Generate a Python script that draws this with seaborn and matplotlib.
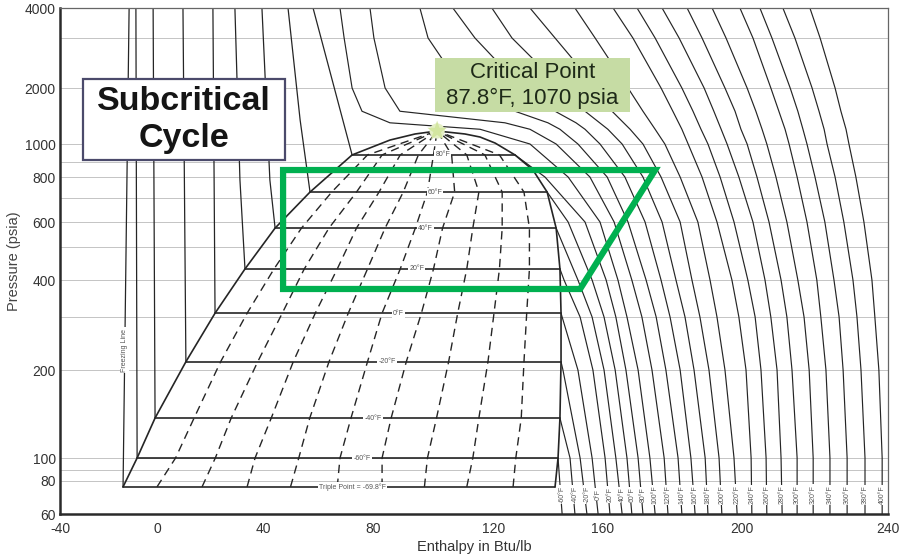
import numpy as np
import pandas as pd
import seaborn as sns
import matplotlib.pyplot as plt
from matplotlib.patches import Rectangle, Polygon

nan = np.nan

# The printed axis marks are not evenly spaced on this chart, so the scale is
# calibrated on them (height / offset of each mark from the bottom-left corner).
h_marks = [-40, 0, 40, 80, 120, 160, 200, 240]
h_mark_pos = [0, 97, 203, 313, 434, 543, 682, 828]
p_marks = [60, 80, 90, 100, 200, 300, 400, 500, 600, 700, 800, 900, 1000, 2000, 3000, 4000]
p_mark_pos = [0, 33, 44, 56, 144, 197, 234, 267, 292, 316, 337, 352, 370, 426, 476, 506]

p_ticks = [60, 80, 100, 200, 400, 600, 800, 1000, 2000, 4000]
p_grid_minor = [90, 300, 500, 700, 900, 3000]

# saturation dome outline (liquid side up to the critical point, vapour side down)
dome_h = [-14.0, -8.2, -0.8, 10.9, 21.9, 33.2, 44.4, 57.1, 72.4, 85.6, 93.9, 101.2,
          110.4, 115.4, 120.4, 127.7, 134.3, 139.5, 142.8, 144.2, 144.6, 144.6, 144.2, 143.5, 142.4]
dome_p = [76, 100, 137, 213, 309, 431, 574, 727, 938, 1050, 1132, 1175,
          1132, 1090, 1012, 938, 845, 727, 574, 431, 309, 213, 137, 100, 76]
crit_h, crit_p = 101.2, 1175

# isotherms inside the dome
sat_T = [80, 60, 40, 20, 0, -20, -40, -60, -69.8]
sat_p = [938, 727, 574, 431, 309, 213, 137, 100, 76]
sat_liq_h = [72.4, 57.1, 44.4, 33.2, 21.9, 10.9, -0.8, -8.2, -14.0]
sat_vap_h = [127.7, 139.5, 142.8, 144.2, 144.6, 144.6, 144.2, 143.5, 142.4]
sat_labels = ['80°F', '60°F', '40°F', '20°F', '0°F', '-20°F', '-40°F', '-60°F',
              'Triple Point = -69.8°F']

# constant quality lines (10 % .. 90 %), from the triple line up to the critical point
qual_p = [76, 100, 137, 213, 309, 431, 574, 727, 938, 1175]
qual_h = [
    [0, 7, 14, 24, 34, 44, 54, 65, 78, 101.2],
    [17, 22, 28, 38, 47, 55, 64, 74, 83, 101.2],
    [34, 37, 43, 51, 59, 67, 74, 82, 89, 101.2],
    [50, 53, 57, 64, 71, 78, 84, 90, 95, 101.2],
    [67, 68, 72, 78, 83, 89, 94, 98, 100, 101.2],
    [83, 83, 86, 91, 96, 100, 103, 107, 106, 101.2],
    [97, 98, 101, 105, 108, 111, 113, 115, 111, 101.2],
    [111, 113, 115, 118, 120, 122, 123, 123, 117, 101.2],
    [127, 128, 130, 131, 132, 133, 133, 131, 122, 101.2],
]

# liquid-side isotherms (-60 .. 80 F), from saturated liquid to the top
liq_iso_h = [[-8.2, -8.7], [-0.8, -1.6], [10.9, 9.8], [21.9, 21.1],
             [33.2, 31.3, 29.4], [44.4, 42.5, 39.6], [57.1, 53.5, 49.1], [72.4, 58.2]]
liq_iso_p = [[100, 4000], [137, 4000], [213, 4000], [309, 4000],
             [431, 785, 4000], [574, 785, 4000], [727, 1346, 4000], [938, 4000]]

freeze_h = [-14.0, -11.5]
freeze_p = [76, 4000]

# vapour / supercritical isotherms on a common pressure grid
p_grid = [60, 100, 200, 300, 400, 600, 800, 1000, 1200, 1300, 1500, 2000, 3000, 4000]
vap_T = [-60, -40, -20, 0, 20, 40, 60, 80, 100, 120, 140, 160, 180, 200,
         220, 240, 260, 280, 300, 320, 340, 360, 380, 400]
vap_h = [
    [145.0] + [nan] * 13,
    [149.7, 147.9] + [nan] * 12,
    [154.1, 151.6, 145.3] + [nan] * 11,
    [158.2, 156.0, 150.8, 145.0] + [nan] * 10,
    [162.0, 160.6, 156.3, 151.6, 145.7] + [nan] * 9,
    [165.5, 163.7, 160.3, 156.0, 150.8] + [nan] * 9,
    [168.3, 166.9, 163.5, 160.3, 156.0, 147.2] + [nan] * 8,
    [171.5, 170.1, 166.6, 163.7, 160.9, 153.4, 138.7] + [nan] * 7,
    [175.0, 173.5, 170.1, 166.9, 164.3, 158.9, 147.2, 133.2, 115.4, 85.6, 76.0, 72.4, 69.5, 68.0],
    [178.7, 177.6, 174.1, 171.2, 168.3, 163.2, 155.2, 142.8, 133.2, 124.0, 88.9, 84.0, 80.3, 78.9],
    [182.7, 181.6, 178.1, 175.3, 172.4, 167.2, 161.2, 150.8, 144.2, 139.8, 127.7, 109.4, 98.2, 95.5],
    [186.5, 185.3, 182.2, 179.3, 176.7, 172.1, 166.3, 158.9, 153.4, 150.1, 142.4, 130.3, 113.7, 106.4],
    [190.2, 189.4, 186.2, 183.6, 181.0, 177.0, 171.5, 165.5, 161.4, nan, 153.4, 145.0, 126.6, 119.3],
    [194.2, 193.4, 190.5, 187.9, 185.6, 182.2, 176.7, 171.5, 167.8, nan, 162.6, 157.8, 142.4, 133.2],
    [198.6, 197.7, 195.1, 192.8, 190.8, 187.3, 182.2, 177.8, 175.0, nan, 171.5, 167.2, 157.1, 149.7],
    [202.7, 202.5, 201.1, 199.1, 197.1, 192.8, 188.5, 184.5, 182.7, nan, 180.1, 176.7, 168.6, 162.9],
    [206.8, 206.6, 205.2, 203.6, 201.6, 197.7, 193.7, 190.2, 188.2, nan, 185.9, 182.7, 175.0, 169.8],
    [211.0, 210.7, 209.6, 207.9, 206.3, 203.0, 199.1, 195.7, 194.0, nan, 191.9, 189.1, 181.9, 177.0],
    [215.1, 215.1, 213.7, 212.3, 210.7, 207.4, 204.1, 201.4, 199.7, nan, 198.0, 195.1, 188.5, 184.2],
    [219.5, 219.5, 218.4, 217.0, 215.3, 212.3, 209.3, 206.8, 205.5, nan, 203.8, 201.4, 195.4, 191.4],
    [224.1, 224.1, 223.0, 221.6, 220.5, 217.8, 215.1, 212.9, 211.8, nan, 210.1, 207.9, 203.0, 199.4],
    [228.8, 228.8, 227.7, 226.6, 225.2, 222.7, 220.0, 217.8, 216.7, nan, 215.3, 213.2, 208.2, 204.9],
    [233.7, 233.7, 232.6, 231.5, 230.4, 227.9, 225.5, 223.3, 222.5, nan, 221.1, 219.2, 214.5, 211.2],
    [238.4, 238.4, 237.5, 236.4, 235.6, 233.4, 231.2, 229.3, 228.5, nan, 227.1, 225.5, 221.4, 218.6],
]

# highlighted subcritical cycle
cycle_h = [47.3, 175.0, 151.6, 47.3]
cycle_p = [845, 845, 373, 373]


def h_fwd(h):
    return np.interp(h, h_marks, h_mark_pos)


def h_inv(v):
    return np.interp(v, h_mark_pos, h_marks)


def p_fwd(p):
    return np.interp(np.log10(np.maximum(p, 1e-6)), np.log10(p_marks), p_mark_pos)


def p_inv(v):
    return 10 ** np.interp(v, p_mark_pos, np.log10(p_marks))


sns.set_theme(style='white')
plt.rcParams['font.family'] = ['Liberation Sans', 'DejaVu Sans']

fig = plt.figure(figsize=(9.05, 5.57), dpi=100)
ax = fig.add_axes([60 / 905, 43 / 557, 828 / 905, 506 / 557])
ax.set_xscale('function', functions=(h_fwd, h_inv))
ax.set_yscale('function', functions=(p_fwd, p_inv))

line_col = '#252525'
label_box = dict(boxstyle='square,pad=0.15', fc='white', ec='none')

# vapour and supercritical isotherms
rows = []
for i, T in enumerate(vap_T):
    hs, ps = list(vap_h[i]), list(p_grid)
    if T in sat_T:
        k = sat_T.index(T)
        hs, ps = hs + [sat_vap_h[k]], ps + [sat_p[k]]
        order = np.argsort(ps)
        hs, ps = [hs[j] for j in order], [ps[j] for j in order]
    for n, (h, p) in enumerate(zip(hs, ps)):
        if np.isfinite(h):
            rows.append({'T': T, 'h': h, 'p': p, 'n': n})
vap_df = pd.DataFrame(rows)
sns.lineplot(data=vap_df, x='h', y='p', units='T', estimator=None, sort=False,
             color=line_col, linewidth=0.85, legend=False, ax=ax, zorder=2)

# liquid isotherms and freezing line
for hs, ps in zip(liq_iso_h, liq_iso_p):
    ax.plot(hs, ps, color=line_col, lw=0.9, zorder=2)
ax.plot(freeze_h, freeze_p, color=line_col, lw=0.9, zorder=2)
ax.text(-13.3, 233, 'Freezing Line', rotation=90, fontsize=5, color='#555',
        ha='center', va='center', bbox=label_box, zorder=3)

# dome, isotherms and quality lines inside it
ax.plot(dome_h, dome_p, color=line_col, lw=1.2, zorder=3)
for hl, hv, p in zip(sat_liq_h, sat_vap_h, sat_p):
    ax.plot([hl, hv], [p, p], color=line_col, lw=1.2, zorder=3)
for hs in qual_h:
    ax.plot(hs, qual_p, color=line_col, lw=1.0, linestyle=(0, (6, 4)), zorder=2)

label_h = [103.1, 100.5, 97.2, 94.5, 88.3, 84.6, 80.0, 76.0, 72.4]
for txt, h, p in zip(sat_labels, label_h, sat_p):
    ax.text(h, p, txt, fontsize=5, color='#555', ha='center', va='center',
            bbox=label_box, zorder=4)

for i, T in enumerate(vap_T):
    ax.text(vap_h[i][0], 71, f'{T}°F', rotation=90, fontsize=5, color='#555',
            ha='center', va='center', bbox=dict(boxstyle='square,pad=0.1', fc='white', ec='none'),
            zorder=4)

# critical point glow
ax.scatter([crit_h], [crit_p], marker='o', s=120, color='#e4efc4', edgecolors='none', zorder=5)
ax.scatter([crit_h], [crit_p], marker='*', s=220, color='#d3e6a0', edgecolors='none', zorder=5)

# cycle outline
ax.add_patch(Polygon(np.column_stack([cycle_h, cycle_p]), closed=True, fill=False,
                     ec='#00b050', lw=4.5, joinstyle='miter', zorder=7))

# annotation boxes
ax.add_patch(Rectangle((0.0278, 0.700), 0.2439, 0.160, transform=ax.transAxes,
                       fc='white', ec='#4b4a6b', lw=1.6, zorder=8))
ax.text(0.1497, 0.779, 'Subcritical\nCycle', transform=ax.transAxes, fontsize=24.5,
        fontweight='bold', color='#151515', ha='center', va='center', linespacing=1.25, zorder=9)
ax.add_patch(Rectangle((0.4529, 0.7945), 0.2355, 0.1067, transform=ax.transAxes,
                       fc='#c6dca4', ec='none', zorder=8))
ax.text(0.5706, 0.8465, 'Critical Point\n87.8°F, 1070 psia', transform=ax.transAxes,
        fontsize=16, color='#1e2a18', ha='center', va='center', linespacing=1.3, zorder=9)

# axes
ax.set_xlim(-40, 240)
ax.set_ylim(60, 4000)
ax.set_xticks(h_marks, [str(v) for v in h_marks])
ax.set_yticks(p_ticks, [str(v) for v in p_ticks])
ax.set_yticks(p_grid_minor, minor=True)
ax.grid(False)
ax.grid(True, axis='y', which='both', color='#c4c4c4', lw=0.7, zorder=0)
ax.set_axisbelow(True)
ax.tick_params(which='both', length=0, labelsize=10, colors='#333')
ax.tick_params(axis='y', pad=3)
ax.tick_params(axis='x', pad=5.5)
ax.set_xlabel('Enthalpy in Btu/lb', fontsize=10.5, color='#333', labelpad=3)
ax.set_ylabel('Pressure (psia)', fontsize=10.5, color='#444', labelpad=3)
for side in ['left', 'bottom']:
    ax.spines[side].set(color='#2a2a2a', lw=1.8)
for side in ['top', 'right']:
    ax.spines[side].set(color='#666', lw=0.9)

fig.savefig('out.png', dpi=100)
